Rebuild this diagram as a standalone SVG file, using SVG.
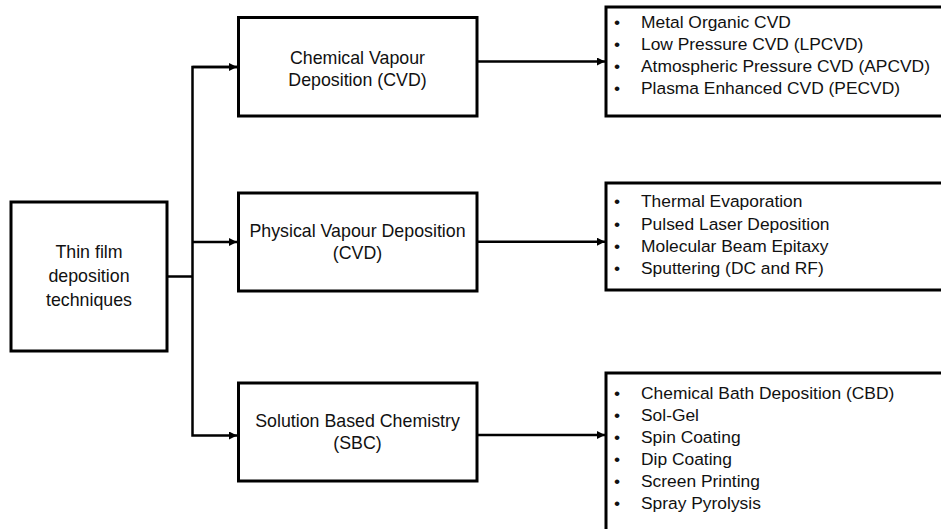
<svg xmlns="http://www.w3.org/2000/svg" width="941" height="529" viewBox="0 0 941 529">
<style>
.box{fill:#fff;stroke:#000;stroke-width:3}
.t{font-family:"Liberation Sans",Arial,sans-serif;font-size:17.8px;fill:#111;text-anchor:middle}
.l{font-family:"Liberation Sans",Arial,sans-serif;font-size:17.4px;fill:#111}
.c{fill:none;stroke:#000;stroke-width:2.5}
</style>
<defs>
<marker id="ah" markerUnits="userSpaceOnUse" markerWidth="9" markerHeight="8" refX="8" refY="4" orient="auto">
<path d="M0,0 L8,4 L0,8 Z" fill="#000"/>
</marker>
</defs>
<g id="connectors">
<path class="c" d="M167,276.5 H192.5"/>
<path class="c" d="M238,67 H192.5 V435.5 H237" marker-end="url(#ah)"/>
<path class="c" d="M192.5,67 H237" marker-end="url(#ah)"/>
<path class="c" d="M192.5,242 H237" marker-end="url(#ah)"/>
<path class="c" d="M477,61.5 H605" marker-end="url(#ah)"/>
<path class="c" d="M477,241.7 H605" marker-end="url(#ah)"/>
<path class="c" d="M477,435 H605" marker-end="url(#ah)"/>
</g>
<g id="root">
<rect class="box" x="11" y="202" width="156" height="149"/>
<text class="t" x="89" y="258">Thin film</text>
<text class="t" x="89" y="282">deposition</text>
<text class="t" x="89" y="306">techniques</text>
</g>
<g id="cvd">
<rect class="box" x="238.5" y="17.5" width="238.5" height="98.5"/>
<text class="t" x="357.5" y="64">Chemical Vapour</text>
<text class="t" x="357.5" y="86">Deposition (CVD)</text>
</g>
<g id="pvd">
<rect class="box" x="238.5" y="193" width="238.5" height="98"/>
<text class="t" x="357.5" y="237">Physical Vapour Deposition</text>
<text class="t" x="357.5" y="259">(CVD)</text>
</g>
<g id="sbc">
<rect class="box" x="238.5" y="383" width="238.5" height="98"/>
<text class="t" x="357.5" y="427">Solution Based Chemistry</text>
<text class="t" x="357.5" y="449">(SBC)</text>
</g>
<g id="cvd-list">
<rect class="box" x="606" y="7" width="340" height="109"/>
<text class="l" x="614" y="27.5">•<tspan x="641">Metal Organic CVD</tspan></text>
<text class="l" x="614" y="49.5">•<tspan x="641">Low Pressure CVD (LPCVD)</tspan></text>
<text class="l" x="614" y="71.5">•<tspan x="641">Atmospheric Pressure CVD (APCVD)</tspan></text>
<text class="l" x="614" y="93.5">•<tspan x="641">Plasma Enhanced CVD (PECVD)</tspan></text>
</g>
<g id="pvd-list">
<rect class="box" x="606" y="183" width="340" height="107"/>
<text class="l" x="614" y="207">•<tspan x="641">Thermal Evaporation</tspan></text>
<text class="l" x="614" y="229.5">•<tspan x="641">Pulsed Laser Deposition</tspan></text>
<text class="l" x="614" y="252">•<tspan x="641">Molecular Beam Epitaxy</tspan></text>
<text class="l" x="614" y="274">•<tspan x="641">Sputtering (DC and RF)</tspan></text>
</g>
<g id="sbc-list">
<rect class="box" x="606" y="373" width="340" height="170"/>
<text class="l" x="614" y="399">•<tspan x="641">Chemical Bath Deposition (CBD)</tspan></text>
<text class="l" x="614" y="421">•<tspan x="641">Sol-Gel</tspan></text>
<text class="l" x="614" y="443">•<tspan x="641">Spin Coating</tspan></text>
<text class="l" x="614" y="465">•<tspan x="641">Dip Coating</tspan></text>
<text class="l" x="614" y="487">•<tspan x="641">Screen Printing</tspan></text>
<text class="l" x="614" y="509">•<tspan x="641">Spray Pyrolysis</tspan></text>
</g>
</svg>
